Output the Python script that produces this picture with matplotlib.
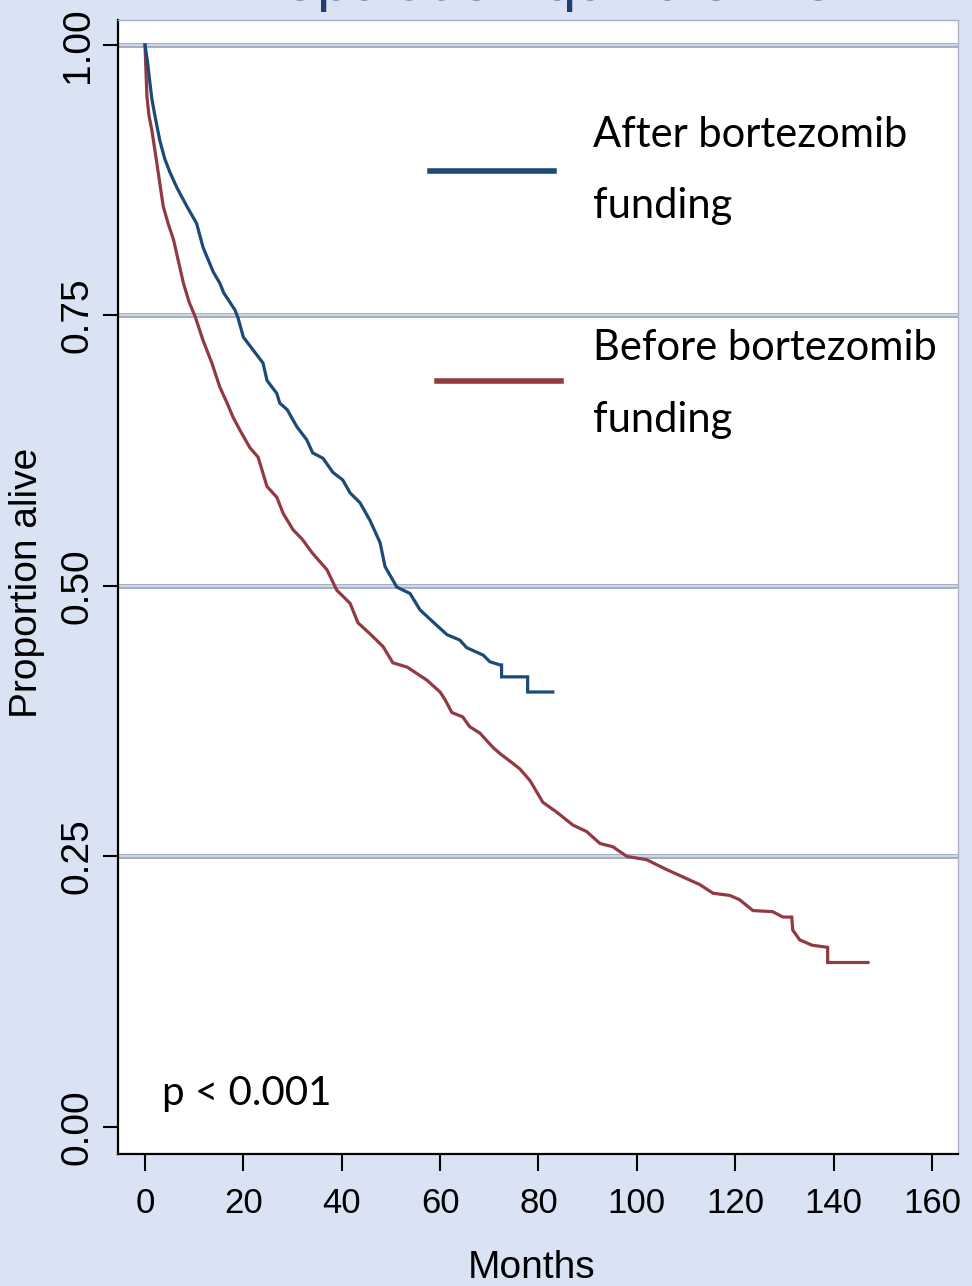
import matplotlib
matplotlib.use("Agg")
import matplotlib.pyplot as plt
from matplotlib.lines import Line2D

# Kaplan-Meier readings (months, proportion alive); repeated months mark the visible drops
after_t = [0, 0.5, 1.0, 1.4, 2.0, 3.0, 4.0, 5.1, 6.5, 8.5, 10.5, 11.8, 13.9, 15.2,
           16.0, 18.3, 18.9, 20.0, 22.0, 24.0, 24.8, 26.8, 27.4, 28.9, 30.9, 32.9,
           34.1, 36.2, 38.2, 40.2, 41.7, 43.7, 45.7, 47.8, 48.8, 51.2, 53.9, 55.9,
           58.5, 61.4, 64.0, 65.4, 68.8, 70.1, 72.2, 72.5, 72.5, 77.8, 77.8, 82.9]
after_s = [1.0, 0.985, 0.965, 0.950, 0.935, 0.912, 0.895, 0.882, 0.868, 0.851, 0.835,
           0.813, 0.790, 0.780, 0.771, 0.755, 0.748, 0.730, 0.718, 0.706, 0.690, 0.678,
           0.669, 0.663, 0.647, 0.635, 0.623, 0.618, 0.605, 0.598, 0.586, 0.577, 0.561,
           0.540, 0.518, 0.499, 0.493, 0.478, 0.467, 0.455, 0.450, 0.443, 0.436, 0.430,
           0.427, 0.427, 0.416, 0.416, 0.402, 0.402]

before_t = [0, 0.2, 0.4, 0.8, 1.4, 2.4, 3.7, 4.7, 5.8, 7.8, 9.0, 10.2, 11.8, 13.6,
            15.2, 16.7, 17.9, 19.3, 21.3, 23.0, 24.0, 24.8, 26.8, 28.1, 30.1, 32.0,
            34.1, 37.0, 39.0, 41.7, 43.3, 45.7, 48.4, 50.4, 53.3, 57.3, 60.0, 61.0,
            62.4, 64.6, 66.0, 68.1, 70.7, 72.2, 74.8, 76.2, 78.3, 80.9, 83.7, 87.0,
            89.8, 92.5, 95.1, 98.0, 102.0, 106.0, 109.4, 112.8, 115.5, 118.9, 120.9,
            123.6, 127.6, 129.7, 131.5, 131.7, 133.1, 135.6, 138.8, 138.8, 147.0]
before_s = [1.0, 0.975, 0.952, 0.935, 0.921, 0.891, 0.851, 0.835, 0.820, 0.780, 0.762,
            0.749, 0.727, 0.706, 0.684, 0.669, 0.656, 0.644, 0.628, 0.619, 0.604, 0.592,
            0.582, 0.567, 0.552, 0.543, 0.530, 0.515, 0.496, 0.484, 0.466, 0.456, 0.444,
            0.429, 0.425, 0.413, 0.402, 0.395, 0.383, 0.379, 0.370, 0.364, 0.351, 0.345,
            0.336, 0.331, 0.320, 0.300, 0.291, 0.279, 0.273, 0.262, 0.259, 0.250, 0.247,
            0.238, 0.231, 0.224, 0.216, 0.214, 0.210, 0.200, 0.199, 0.194, 0.194, 0.182,
            0.173, 0.168, 0.166, 0.152, 0.152]

x_ticks = [0, 20, 40, 60, 80, 100, 120, 140, 160]
y_ticks = [0.0, 0.25, 0.5, 0.75, 1.0]
y_labels = ["0.00", "0.25", "0.50", "0.75", "1.00"]
grid_y = [0.25, 0.5, 0.75, 1.0]

BLUE = "#1b4a78"
RED = "#923a41"
BG = "#dae3f3"
REG = "Liberation Sans"
HUMAN = "Lato"   # stands in for the Calibri used in the slide

fig = plt.figure(figsize=(9.72, 12.86), dpi=100, facecolor=BG)
ax = fig.add_axes([118/972, 1 - 1154/1286, 840/972, 1134/1286])
ax.set_facecolor("white")

# gridlines look like double gray/blue lines
for g in grid_y:
    ax.axhline(g, color="#a7b0c2", lw=3.6, zorder=1)
    ax.axhline(g, color="#d6e0f0", lw=1.2, zorder=1)

ax.plot(before_t, before_s, color=RED, lw=2.3, zorder=3, solid_joinstyle="miter")
ax.plot(after_t, after_s, color=BLUE, lw=2.3, zorder=4, solid_joinstyle="miter")

ax.set_xlim(-5.49, 165.3)
ax.set_ylim(-0.025, 1.0231)

ax.set_xticks(x_ticks)
ax.set_xticklabels([str(v) for v in x_ticks], fontsize=25, family=REG)
ax.set_yticks(y_ticks)
ax.set_yticklabels(y_labels, rotation=90, va="center", fontsize=28, family=REG)
ax.tick_params(axis="x", length=12, width=1.5, pad=11.5)
ax.tick_params(axis="y", length=11, width=1.5, pad=5)

for side in ["left", "bottom"]:
    ax.spines[side].set_color("black")
    ax.spines[side].set_linewidth(1.6)
for side in ["top", "right"]:
    ax.spines[side].set_color("#aab3c3")
    ax.spines[side].set_linewidth(1.0)

ax.set_xlabel("Months", fontsize=28, family=REG)
ax.xaxis.set_label_coords(0.492, -0.0847)
ax.xaxis.label.set_va("top")
ax.set_ylabel("Proportion alive", fontsize=28, family=REG)
ax.yaxis.set_label_coords(-0.087, 0.504)

# legend drawn by hand, like the original
fig.add_artist(Line2D([430/972, 554/972], [1 - 171/1286, 1 - 171/1286],
                      color=BLUE, lw=4, transform=fig.transFigure))
fig.add_artist(Line2D([437/972, 561/972], [1 - 381/1286, 1 - 381/1286],
                      color=RED, lw=4, transform=fig.transFigure))
leg_lines = [("After bortezomib", 147), ("funding", 218),
             ("Before bortezomib", 360), ("funding", 432)]
for txt, base in leg_lines:
    fig.text(593/972, 1 - base/1286, txt, fontsize=30, family=HUMAN,
             va="baseline", ha="left")

fig.text(162/972, 1 - 1105/1286, "p < 0.001", fontsize=29, family=HUMAN,
         va="baseline", ha="left")

# title cut off by the top edge, as in the slide
fig.text(540/972, 1.0, "Population quintile 1-5", fontsize=43, family=REG,
         color="#1f3f6e", va="baseline", ha="center")

fig.savefig("out.png", dpi=100, facecolor=BG)
